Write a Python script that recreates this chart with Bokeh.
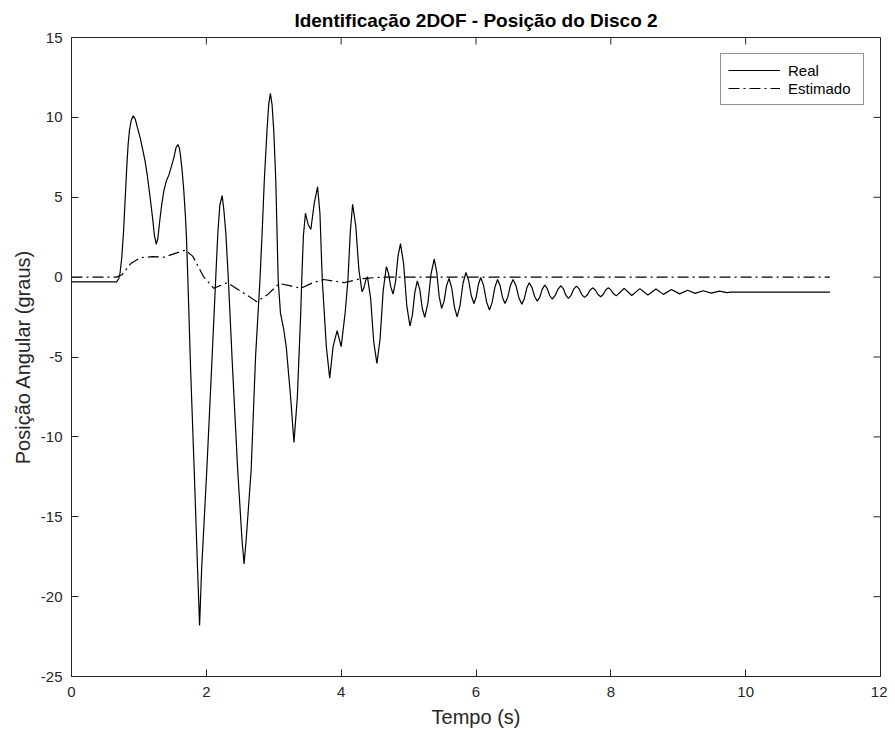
import math
from bokeh.plotting import figure
from bokeh.models import Range1d, FixedTicker, Legend, LegendItem
from bokeh.embed import file_html
from bokeh.resources import INLINE

# ---- data (time in s, angle in degrees) ----
t_real = [0.0, 0.67, 0.70, 0.72, 0.745, 0.77, 0.795, 0.82, 0.84, 0.86, 0.885, 0.915,
          0.945, 0.975, 1.02, 1.06, 1.09, 1.12, 1.16, 1.20, 1.23, 1.257, 1.28, 1.31,
          1.34, 1.37, 1.405, 1.445, 1.48, 1.52, 1.55, 1.577, 1.60, 1.617, 1.64, 1.666,
          1.69, 1.706, 1.725, 1.767, 1.82, 1.87, 1.90, 1.93, 2.007, 2.077, 2.14, 2.17,
          2.20, 2.235, 2.26, 2.29, 2.325, 2.39, 2.465, 2.53, 2.56, 2.59, 2.665, 2.73,
          2.795, 2.83, 2.86, 2.90, 2.925, 2.95, 2.975, 3.00, 3.03, 3.066, 3.10, 3.145,
          3.185, 3.25, 3.30, 3.35, 3.40, 3.415, 3.44, 3.47, 3.51, 3.55, 3.60, 3.65,
          3.685, 3.72, 3.78, 3.83, 3.88, 3.94, 4.00, 4.06, 4.10, 4.135, 4.17,
          4.217, 4.263, 4.31, 4.337, 4.363, 4.39, 4.437, 4.483, 4.53, 4.577, 4.623, 4.67,
          4.703, 4.737, 4.77, 4.807, 4.843, 4.88, 4.927, 4.973, 5.02, 5.057, 5.093, 5.13,
          5.167, 5.203, 5.24, 5.287, 5.333, 5.38, 5.417, 5.453, 5.49, 5.527, 5.563, 5.60,
          5.64, 5.68, 5.72, 5.763, 5.807, 5.85, 5.89, 5.93, 5.97, 6.003, 6.037, 6.07,
          6.113, 6.157, 6.20, 6.24, 6.28, 6.32, 6.357, 6.393, 6.43, 6.47, 6.51, 6.55,
          6.593, 6.637, 6.68, 6.717, 6.753, 6.79, 6.83, 6.87, 6.91, 6.947, 6.983, 7.02,
          7.057, 7.093, 7.13, 7.173, 7.217, 7.26, 7.297, 7.333, 7.37, 7.41, 7.45, 7.49,
          7.53, 7.57, 7.61, 7.65, 7.69, 7.73, 7.77, 7.81, 7.85, 7.887, 7.923, 7.96,
          8.00, 8.04, 8.08, 8.20, 8.31, 8.43, 8.55, 8.67, 8.78, 8.90, 9.02, 9.14,
          9.25, 9.37, 9.49, 9.61, 9.72, 9.78, 11.25]
v_real = [-0.3, -0.3, -0.1, 0.25, 1.2, 2.7, 4.8, 6.9, 8.3, 9.2, 9.8, 10.1,
          9.9, 9.4, 8.7, 7.9, 7.3, 6.5, 5.2, 3.8, 2.6, 2.06, 2.4, 3.56,
          4.6, 5.4, 6.0, 6.4, 6.9, 7.5, 8.1, 8.3, 8.1, 7.6, 6.7, 5.4,
          3.8, 2.4, 0.0, -5.8, -12.06, -18.3, -21.8, -18.3, -12.06, -5.8, 0.0, 2.7,
          4.5, 5.1, 4.2, 2.7, 0.0, -5.8, -12.06, -16.5, -17.96, -16.5, -12.06, -5.0,
          -0.2, 3.0, 6.06, 9.2, 10.8, 11.5, 10.8, 9.2, 6.06, -0.2, -2.27, -3.2,
          -4.35, -7.5, -10.35, -7.5, -2.27, -0.2, 2.6, 4.0, 3.3, 2.98, 4.6, 5.65,
          4.0, -0.2, -4.35, -6.33, -4.35, -3.35, -4.35, -2.2, -0.2, 2.8, 4.56,
          3.19, 0.45, -0.92, -0.685, -0.215, 0.02, -1.335, -4.045, -5.4, -3.89, -0.86, 0.65,
          0.22, -0.63, -1.06, -0.27, 1.31, 2.1, 0.81, -1.77, -3.06, -2.35, -0.94, -0.23,
          -0.80, -1.95, -2.52, -1.61, 0.21, 1.12, 0.35, -1.19, -1.96, -1.49, -0.55, -0.08,
          -0.68, -1.88, -2.48, -1.79, -0.40, 0.29, -0.195, -1.165, -1.65, -1.24, -0.43, -0.02,
          -0.53, -1.55, -2.06, -1.58, -0.63, -0.15, -0.525, -1.275, -1.65, -1.275, -0.525, -0.15,
          -0.535, -1.305, -1.69, -1.355, -0.685, -0.35, -0.64, -1.21, -1.5, -1.25, -0.75, -0.5,
          -0.72, -1.15, -1.37, -1.16, -0.75, -0.54, -0.74, -1.13, -1.33, -1.14, -0.75, -0.56,
          -0.74, -1.09, -1.27, -1.12, -0.82, -0.67, -0.81, -1.09, -1.23, -1.09, -0.81, -0.67,
          -0.795, -1.045, -1.17, -0.7, -1.15, -0.72, -1.12, -0.75, -1.08, -0.78, -1.05, -0.82,
          -1.02, -0.85, -1.0, -0.88, -0.97, -0.94, -0.94]

t_est = [0.0, 0.67, 0.75, 0.88, 1.02, 1.20, 1.37, 1.55, 1.69, 1.80, 1.96, 2.11,
         2.31, 2.50, 2.75, 2.92, 3.08, 3.25, 3.40, 3.58, 3.74, 3.90, 4.04, 4.29,
         4.60, 11.25]
v_est = [0.0, 0.0, 0.15, 0.85, 1.22, 1.28, 1.25, 1.5, 1.69, 1.3, 0.02, -0.7,
         -0.35, -0.85, -1.54, -1.05, -0.4, -0.55, -0.7, -0.35, -0.15, -0.25, -0.35, -0.1,
         0.0, 0.0]

x_lim = [0, 12]
y_lim = [-25, 15]
x_ticks = [0, 2, 4, 6, 8, 10, 12]
x_tick_labels = ["0", "2", "4", "6", "8", "10", "12"]
y_ticks = [-25, -20, -15, -10, -5, 0, 5, 10, 15]
y_tick_labels = ["-25", "-20", "-15", "-10", "-5", "0", "5", "10", "15"]
series_labels = ["Real", "Estimado"]

TXT = "#262626"
FONT = "Liberation Sans"

p = figure(width=887, height=730, output_backend="svg", toolbar_location=None,
           x_range=Range1d(*x_lim), y_range=Range1d(*y_lim),
           min_border_left=71, min_border_right=7, min_border_top=37, min_border_bottom=53,
           title="Identificação 2DOF - Posição do Disco 2")
p.title.text_font = FONT
p.title.text_font_size = "19px"
p.title.text_font_style = "bold"
p.title.text_color = "#000000"
p.title.align = "center"
p.title.standoff = 13

p.xgrid.visible = False
p.ygrid.visible = False
p.outline_line_color = TXT
p.outline_line_width = 1
p.background_fill_color = "white"
p.border_fill_color = "white"

for ax in (p.xaxis[0], p.yaxis[0]):
    ax.major_tick_in = 7
    ax.major_tick_out = 0
    ax.minor_tick_in = 0
    ax.minor_tick_out = 0
    ax.axis_line_color = TXT
    ax.major_tick_line_color = TXT
    ax.major_label_text_font = FONT
    ax.major_label_text_font_size = "15px"
    ax.major_label_text_color = TXT
    ax.axis_label_text_font = FONT
    ax.axis_label_text_font_size = "20px"
    ax.axis_label_text_font_style = "normal"
    ax.axis_label_text_color = TXT

p.xaxis[0].major_label_standoff = 10
p.xaxis[0].axis_label_standoff = 6
p.yaxis[0].major_label_standoff = 9
p.yaxis[0].axis_label_standoff = 4

p.xaxis[0].ticker = FixedTicker(ticks=x_ticks)
p.yaxis[0].ticker = FixedTicker(ticks=y_ticks)
p.xaxis[0].major_label_overrides = dict(zip(x_ticks, x_tick_labels))
p.yaxis[0].major_label_overrides = dict(zip(y_ticks, y_tick_labels))
p.xaxis[0].axis_label = "Tempo (s)"
p.yaxis[0].axis_label = "Posição Angular (graus)"

# inward ticks on the top and right edges of the box (MATLAB "box on")
p.ray(x=x_ticks, y=[y_lim[1]] * len(x_ticks), length=7, length_units="screen",
      angle=-math.pi / 2, line_color=TXT, line_width=1)
p.ray(x=[x_lim[1]] * len(y_ticks), y=y_ticks, length=7, length_units="screen",
      angle=math.pi, line_color=TXT, line_width=1)

r_real = p.line(t_real, v_real, line_color="black", line_width=1.2)
r_est = p.line(t_est, v_est, line_color="black", line_width=1.2, line_dash="11 4 2 4")

legend = Legend(items=[LegendItem(label=series_labels[0], renderers=[r_real]),
                       LegendItem(label=series_labels[1], renderers=[r_est])],
                location="top_right", margin=16, padding=7, spacing=0,
                label_height=18, glyph_height=18, glyph_width=52, label_standoff=8,
                label_width=68,
                label_text_font=FONT, label_text_font_size="15px", label_text_color="#000000",
                border_line_color=TXT, border_line_width=1, background_fill_color="white",
                background_fill_alpha=1.0)
p.add_layout(legend, "center")

open("out.html", "w").write(file_html(p, INLINE))
